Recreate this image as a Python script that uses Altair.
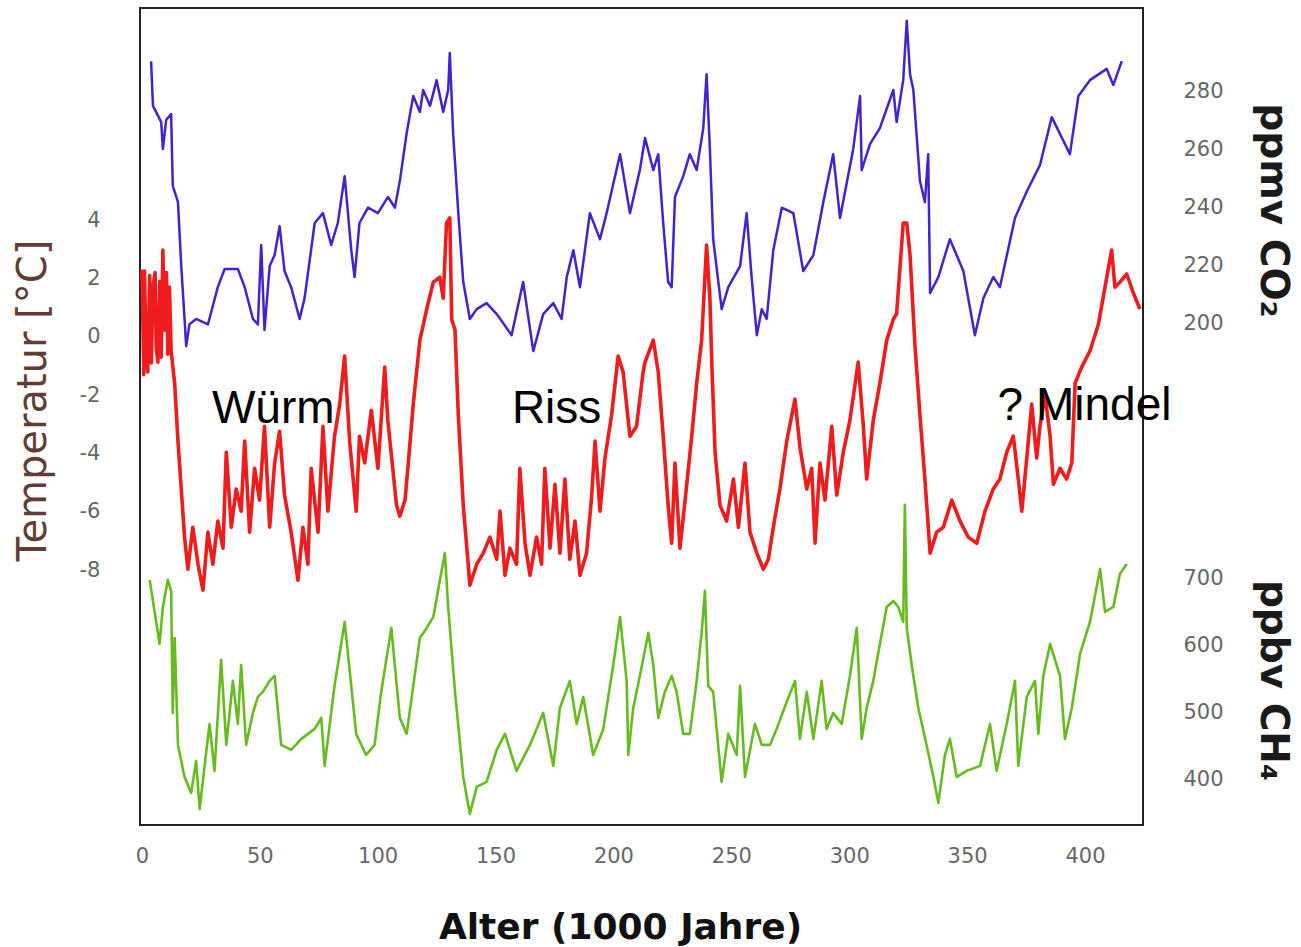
import altair as alt
import pandas as pd

# ---- data (age in 1000 years) ----
co2_points = [(3.9, 290.5), (4.7, 275.1), (8.2, 269.5), (8.9, 260.2), (10.3, 270.2), (12.4, 272.3), (13.1, 247.4),
              (15.3, 241.8), (16.7, 219.7), (18.1, 201.4), (18.8, 192.0), (20.2, 199.6), (23.0, 201.4), (28.0, 199.5),
              (32.2, 212.4), (35.1, 218.7), (40.7, 218.7), (43.6, 212.4), (47.1, 201.4), (49.2, 199.5), (50.6, 227.0),
              (52.0, 197.6), (54.2, 219.7), (56.3, 223.5), (58.4, 233.5), (60.5, 218.0), (63.3, 212.4), (66.9, 201.4),
              (69.0, 208.6), (73.3, 234.6), (76.8, 238.0), (80.3, 227.0), (83.1, 234.6), (86.0, 250.8), (88.8, 225.2),
              (90.2, 215.9), (92.3, 234.6), (95.9, 239.9), (100.1, 238.0), (104.4, 243.6), (107.3, 239.9), (109.4, 249.1),
              (112.3, 265.7), (115.1, 278.5), (117.9, 273.0), (119.3, 280.6), (122.2, 275.1), (125.0, 284.0), (127.8, 273.0),
              (129.9, 280.6), (130.6, 293.4), (132.0, 265.7), (134.2, 238.0), (136.3, 214.2), (139.1, 201.4), (142.0, 204.8),
              (146.2, 206.9), (150.5, 203.1), (156.8, 195.8), (161.7, 214.2), (166.0, 190.3), (170.2, 203.1), (174.5, 206.9),
              (178.0, 201.4), (180.2, 215.9), (183.0, 225.2), (185.8, 212.4), (190.0, 238.0), (194.3, 229.0), (197.1, 238.0),
              (202.8, 258.4), (207.0, 238.0), (211.2, 252.9), (213.4, 264.0), (216.9, 252.9), (219.0, 258.4), (221.1, 234.6),
              (223.2, 214.2), (224.7, 212.4), (226.1, 243.6), (229.6, 250.8), (232.4, 258.4), (235.3, 252.9), (238.1, 267.4),
              (239.5, 286.0), (240.9, 260.2), (242.3, 229.0), (245.9, 204.8), (248.7, 212.4), (253.7, 219.7), (256.5, 238.0),
              (258.6, 215.9), (260.8, 195.8), (262.9, 204.8), (265.0, 201.4), (267.8, 225.2), (271.4, 239.9), (276.3, 238.0),
              (280.5, 218.0), (284.8, 223.5), (289.0, 241.8), (293.2, 258.4), (296.1, 236.3), (301.7, 260.2), (304.6, 278.5),
              (305.3, 252.9), (308.8, 261.9), (313.0, 267.4), (318.7, 280.6), (320.1, 269.5), (322.9, 284.0), (324.4, 304.5),
              (325.8, 286.0), (327.2, 280.6), (330.0, 249.1), (332.1, 241.8), (333.5, 258.4), (334.3, 210.4), (337.8, 215.9),
              (342.7, 229.0), (348.4, 218.0), (353.3, 195.8), (356.9, 208.6), (361.1, 215.9), (363.9, 212.4), (370.3, 236.3),
              (375.3, 245.5), (380.9, 254.6), (385.9, 271.2), (393.6, 258.4), (397.2, 278.5), (402.1, 284.0), (409.2, 287.9),
              (412.0, 282.3), (415.6, 290.6)]

temp_points = [(0.0, 2.3), (0.4, 0.6), (0.8, -1.3), (1.1, 2.25), (1.8, -0.6), (2.5, -1.21), (3.3, 2.1), (4.0, -0.9),
               (4.7, 1.70), (5.6, 2.2), (6.1, -0.4), (6.8, -0.87), (7.6, 1.9), (8.2, -0.7), (8.9, 2.97), (9.6, 0.23),
               (10.4, 2.2), (11.0, -0.6), (11.7, 1.70),
               (12.4, -0.49), (13.9, -1.59), (15.3, -3.58), (16.7, -5.22), (18.1, -6.87), (19.5, -7.97), (21.6, -6.53),
               (23.8, -7.80), (25.9, -8.69), (28.0, -6.70), (30.1, -7.80), (32.2, -6.32), (34.4, -7.25), (35.8, -3.96),
               (37.9, -6.53), (40.0, -5.22), (42.1, -5.98), (43.6, -3.58), (45.7, -6.70), (47.8, -4.51), (49.9, -5.60),
               (52.0, -3.07), (54.2, -6.53), (56.3, -4.33), (58.4, -3.24), (60.5, -5.43), (63.3, -6.70), (66.2, -8.35),
               (68.3, -6.53), (70.4, -7.80), (71.8, -4.51), (74.7, -6.70), (76.8, -3.07), (78.9, -5.98), (81.7, -3.41),
               (83.9, -2.31), (86.0, -0.66), (88.1, -3.58), (90.9, -5.98), (92.3, -3.41), (94.5, -4.33), (97.3, -2.52),
               (100.1, -4.51), (103.0, -1.04), (104.3, -2.86), (108.0, -5.78), (109.4, -6.15), (111.6, -5.60), (113.0, -4.33),
               (115.1, -2.31), (117.9, -0.12), (120.8, 0.95), (123.6, 1.87), (126.4, 2.04), (127.8, 1.32), (129.2, 3.90),
               (130.6, 4.07), (131.4, 0.6), (132.8, 0.23), (134.2, -2.69), (136.3, -5.78), (138.4, -7.80), (139.1, -8.52),
               (142.0, -7.80), (144.8, -7.42), (147.6, -6.87), (150.5, -7.63), (151.9, -5.98), (154.0, -8.18), (156.1, -7.25),
               (158.9, -7.80), (160.3, -4.51), (162.5, -7.08), (164.6, -8.18), (167.4, -6.87), (169.5, -7.80), (170.9, -4.51),
               (173.1, -7.25), (175.2, -5.06), (177.3, -7.42), (179.4, -4.88), (181.5, -7.63), (183.7, -6.32), (185.8, -8.18),
               (188.6, -7.42), (190.8, -5.43), (192.2, -3.58), (194.3, -5.98), (196.4, -4.16), (199.2, -2.69), (202.0, -0.66),
               (204.1, -1.21), (207.0, -3.41), (209.8, -3.07), (212.6, -1.21), (213.4, -0.87), (216.9, -0.12), (219.0, -1.21),
               (221.1, -3.41), (223.2, -5.78), (224.7, -7.08), (226.1, -4.33), (228.2, -7.25), (230.4, -5.60), (233.2, -3.41),
               (235.3, -1.59), (237.4, -0.12), (239.5, 3.14), (240.9, 1.32), (241.7, -0.87), (243.1, -3.96), (245.2, -5.78),
               (248.0, -6.32), (250.9, -4.88), (253.0, -6.53), (255.8, -4.33), (257.9, -6.70), (260.8, -7.42), (263.6, -7.97),
               (265.7, -7.63), (267.8, -6.53), (270.6, -5.22), (273.5, -3.58), (277.0, -2.14), (279.1, -3.79), (282.0, -5.22),
               (284.1, -4.51), (285.5, -7.08), (287.6, -4.33), (289.7, -5.60), (292.6, -3.07), (294.7, -5.43), (297.5, -3.96),
               (300.3, -2.86), (303.8, -0.87), (306.0, -3.07), (307.4, -4.88), (310.2, -2.86), (313.0, -1.59), (315.9, -0.12),
               (318.7, 0.6), (320.1, 0.78), (322.9, 3.90), (324.4, 3.90), (325.8, 2.80), (327.9, -0.32), (330.0, -2.69),
               (332.1, -4.88), (334.3, -7.42), (337.1, -6.70), (339.9, -6.53), (343.5, -5.60), (347.0, -6.32), (350.5, -6.87),
               (354.1, -7.08), (357.6, -5.98), (361.1, -5.22), (363.9, -4.88), (366.8, -3.96), (369.6, -3.41), (371.7, -4.88),
               (373.2, -5.98), (375.3, -4.16), (377.4, -2.31), (379.5, -4.16), (380.9, -3.07), (383.0, -1.97), (385.2, -3.41),
               (386.6, -5.06), (389.4, -4.51), (392.2, -4.88), (394.4, -4.33), (395.8, -1.59), (398.6, -1.04), (402.1, -0.49),
               (405.6, 0.40), (408.5, 1.70), (411.3, 2.97), (412.7, 1.70), (414.8, 1.87), (417.7, 2.15), (420.5, 1.50),
               (423.3, 0.95)]

ch4_points = [(3.3, 697.5), (4.7, 666.2), (7.5, 602.3), (8.9, 657.3), (11.0, 697.5), (12.4, 681.1), (13.1, 499.7),
              (13.9, 611.2), (15.3, 452.1), (18.1, 404.5), (20.9, 380.7), (23.0, 428.3), (24.5, 356.9), (26.6, 420.9),
              (28.7, 483.3), (30.8, 413.5), (33.6, 578.5), (35.8, 452.1), (38.6, 547.3), (40.7, 483.3), (42.1, 571.0),
              (44.2, 452.1), (47.1, 499.7), (49.2, 523.5), (51.3, 530.9), (54.2, 547.3), (56.3, 554.7), (59.1, 452.1),
              (63.3, 444.7), (67.6, 461.1), (73.3, 475.9), (76.1, 492.3), (77.5, 420.9), (81.7, 539.9), (86.0, 635.0),
              (88.8, 539.9), (90.9, 468.5), (95.1, 437.2), (98.7, 452.1), (101.5, 530.9), (105.8, 626.1), (107.9, 547.3),
              (109.4, 492.3), (112.3, 468.5), (115.1, 539.9), (117.9, 611.2), (120.8, 626.1), (123.6, 642.4), (126.4, 697.5),
              (128.5, 737.6), (129.9, 657.3), (132.8, 530.9), (136.3, 404.5), (139.1, 349.5), (142.0, 389.7), (146.2, 397.1),
              (150.5, 444.7), (154.0, 468.5), (158.9, 413.5), (164.6, 452.1), (170.2, 499.7), (174.5, 420.9), (177.3, 507.1),
              (181.5, 547.3), (184.4, 483.3), (187.2, 523.5), (191.4, 437.2), (195.7, 475.9), (199.9, 571.0), (202.8, 642.4),
              (205.6, 547.3), (206.3, 437.2), (208.4, 507.1), (211.2, 554.7), (214.8, 618.7), (216.9, 571.0), (219.0, 492.3),
              (221.8, 530.9), (224.7, 554.7), (226.8, 530.9), (229.6, 468.5), (232.4, 468.5), (235.3, 547.3), (237.4, 618.7),
              (238.8, 681.1), (240.2, 539.9), (242.3, 530.9), (245.9, 397.1), (248.7, 468.5), (252.3, 437.2), (253.7, 539.9),
              (255.8, 404.5), (260.0, 483.3), (262.9, 452.1), (266.4, 452.1), (269.2, 475.9), (273.5, 516.1), (277.0, 547.3),
              (279.1, 461.1), (282.0, 530.9), (284.8, 461.1), (288.3, 547.3), (290.4, 475.9), (293.2, 499.7), (296.8, 483.3),
              (300.3, 554.7), (303.2, 626.1), (305.3, 461.1), (307.4, 507.1), (310.2, 547.3), (313.0, 602.3), (315.9, 657.3),
              (318.7, 666.2), (320.8, 657.3), (322.9, 635.0), (323.6, 809.0), (324.4, 626.1), (326.5, 571.0), (329.3, 507.1),
              (332.8, 452.1), (335.7, 404.5), (337.8, 365.9), (340.6, 437.2), (342.7, 461.1), (345.6, 404.5), (349.8, 413.5),
              (355.5, 420.9), (359.7, 483.3), (362.5, 413.5), (366.8, 483.3), (370.3, 547.3), (371.7, 420.9), (375.3, 523.5),
              (378.8, 547.3), (380.2, 468.5), (382.3, 554.7), (385.2, 602.3), (389.4, 554.7), (391.5, 461.1), (394.4, 507.1),
              (397.9, 587.4), (402.1, 635.0), (406.4, 713.8), (408.5, 649.9), (412.0, 657.3), (414.8, 706.4), (417.7, 721.3)]

stage_labels = ["Würm", "Riss", "? Mindel"]
stage_ages = [55.7, 175.9, 399.8]
stage_temps = [-2.95, -2.95, -2.85]

x_ticks = [0, 50, 100, 150, 200, 250, 300, 350, 400]
temp_ticks = [-8, -6, -4, -2, 0, 2, 4]
co2_ticks = [200, 220, 240, 260, 280]
ch4_ticks = [400, 500, 600, 700]

X_DOMAIN = [-0.8, 424.6]
TEMP_DOMAIN = [-16.74, 11.27]
CO2_DOMAIN = [26.4, 308.95]
CH4_DOMAIN = [333.0, 1548.0]

co2_df = pd.DataFrame(co2_points, columns=["age", "value"])
temp_df = pd.DataFrame(temp_points, columns=["age", "value"])
ch4_df = pd.DataFrame(ch4_points, columns=["age", "value"])
text_df = pd.DataFrame({"age": stage_ages, "value": stage_temps, "label": stage_labels})

LABEL_FONT = "DejaVu Sans"
TITLE_FONT = "DejaVu Sans"
PLAIN_LABEL = "'' + datum.value"

x_axis = alt.Axis(values=x_ticks, title="Alter (1000 Jahre)", labelExpr=PLAIN_LABEL,
                  labelFont=LABEL_FONT, labelFontSize=21, labelColor="#666666", labelPadding=20,
                  ticks=False, tickSize=0, domain=False, grid=False,
                  titleFont=TITLE_FONT, titleFontSize=36, titleFontWeight="bold", titleColor="#111111",
                  titleX=480, titleY=113, titleAlign="center", titleBaseline="alphabetic")

x_enc = alt.X("age:Q", scale=alt.Scale(domain=X_DOMAIN, nice=False, zero=False), axis=x_axis)

temp_line = alt.Chart(temp_df).mark_line(color="#ee1c1c", strokeWidth=3.6, strokeJoin="round").encode(
    x=x_enc,
    y=alt.Y("value:Q", scale=alt.Scale(domain=TEMP_DOMAIN, nice=False, zero=False),
            axis=alt.Axis(values=temp_ticks, orient="left", labelExpr=PLAIN_LABEL, title="Temperatur [°C]",
                          labelFont=LABEL_FONT, labelFontSize=21, labelColor="#666666", labelPadding=40,
                          ticks=False, tickSize=0, domain=False, grid=False,
                          titleFont=TITLE_FONT, titleFontSize=40, titleFontWeight="normal", titleColor="#5e3d35",
                          titleAngle=270, titleX=-95, titleY=392, titleAlign="center", titleBaseline="alphabetic")),
)

co2_line = alt.Chart(co2_df).mark_line(color="#4422cc", strokeWidth=2.5, strokeJoin="round").encode(
    x=x_enc,
    y=alt.Y("value:Q", scale=alt.Scale(domain=CO2_DOMAIN, nice=False, zero=False),
            axis=alt.Axis(values=co2_ticks, orient="right", labelExpr=PLAIN_LABEL, title="ppmv CO₂",
                          labelFont=LABEL_FONT, labelFontSize=21, labelColor="#666666", labelPadding=40,
                          ticks=False, tickSize=0, domain=False, grid=False,
                          titleFont=TITLE_FONT, titleFontSize=39, titleFontWeight="bold", titleColor="#1a1a1a",
                          titleAngle=90, titleX=117, titleY=202, titleAlign="center", titleBaseline="alphabetic")),
)

ch4_line = alt.Chart(ch4_df).mark_line(color="#66bb1e", strokeWidth=2.6, strokeJoin="round").encode(
    x=x_enc,
    y=alt.Y("value:Q", scale=alt.Scale(domain=CH4_DOMAIN, nice=False, zero=False),
            axis=alt.Axis(values=ch4_ticks, orient="right", labelExpr=PLAIN_LABEL, title="ppbv CH₄",
                          labelFont=LABEL_FONT, labelFontSize=21, labelColor="#666666", labelPadding=40,
                          ticks=False, tickSize=0, domain=False, grid=False,
                          titleFont=TITLE_FONT, titleFontSize=39, titleFontWeight="bold", titleColor="#1a1a1a",
                          titleAngle=90, titleX=117, titleY=672, titleAlign="center", titleBaseline="alphabetic")),
)

stage_text = alt.Chart(text_df).mark_text(font="Liberation Sans", fontSize=46, color="#000000",
                                          align="center", baseline="alphabetic").encode(
    x=x_enc,
    y=alt.Y("value:Q", scale=alt.Scale(domain=TEMP_DOMAIN, nice=False, zero=False), axis=None),
    text="label:N",
)

chart = alt.layer(co2_line, temp_line, ch4_line, stage_text).resolve_scale(y="independent").properties(
    width=1003, height=817,
    autosize=alt.AutoSizeParams(type="none"),
    padding={"left": 140, "top": 8, "right": 158, "bottom": 122},
    background="white",
).configure_view(stroke="#222222", strokeWidth=2)

chart.save("out.html", embed_options={"renderer": "svg", "actions": False})
